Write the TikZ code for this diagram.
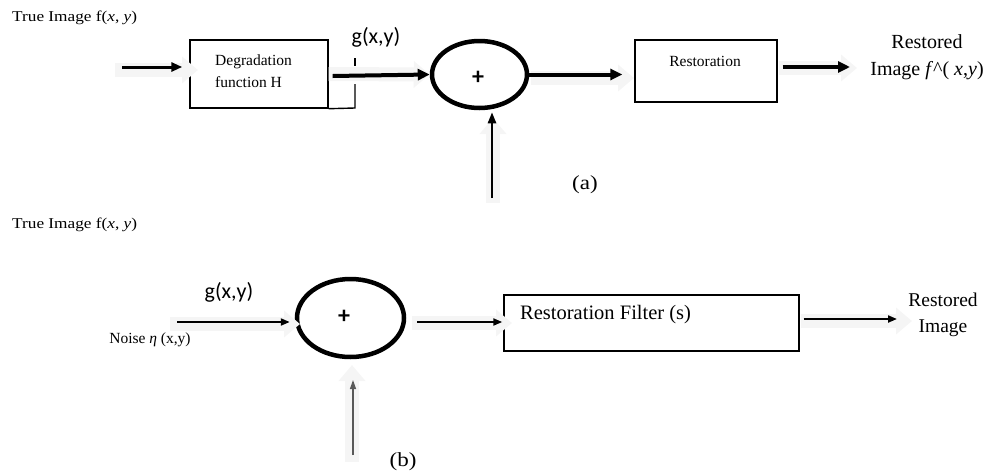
\documentclass[tikz,border=0pt]{standalone}
\usepackage{fontspec}
\setmainfont{Liberation Serif}
\newfontfamily\wideserif{Liberation Serif}[FakeStretch=1.15]
\newfontfamily\calib{Carlito}
\usetikzlibrary{arrows.meta,calc,shapes.geometric}
\tikzset{
  boxnode/.style={draw, line width=1.4pt, inner sep=0pt},
  sumnode/.style={draw, ellipse, line width=4.5pt, inner sep=0pt},
  thickarr/.style={line width=4pt, -{Triangle[length=12pt,width=11pt]}},
  medarr/.style={line width=3pt, -{Triangle[length=11pt,width=9pt]}},
  vertarr/.style={line width=2.4pt, -{Triangle[length=11pt,width=8pt]}},
  thinarr/.style={line width=2pt, -{Triangle[length=9pt,width=7pt]}},
  hairarr/.style={line width=1.3pt, draw=black!65, -{Triangle[length=9pt,width=6pt]}},
  halo/.style={draw=black!4, line width=14pt, -{Triangle[length=16pt,width=26pt]}},
  smalltxt/.style={font=\fontsize{15.5}{22}\selectfont, inner sep=0pt},
  truetxt/.style={font=\wideserif\fontsize{15}{18}\selectfont, inner sep=0pt, anchor=west},
  bigtxt/.style={font=\fontsize{20}{27}\selectfont, inner sep=0pt, align=center},
  gtxt/.style={font=\calib\fontsize{22}{26}\selectfont, inner sep=0pt},
  plustxt/.style={font=\calib\bfseries\fontsize{24}{24}\selectfont, inner sep=0pt},
  captxt/.style={font=\wideserif\fontsize{20}{20}\selectfont, inner sep=0pt}
}
\begin{document}
\begin{tikzpicture}[x=1pt,y=-1pt]
\useasboundingbox (0,0) rectangle (987,474);

% ---------- (a) ----------
\node[truetxt] (trueA) at (12,18) {True Image f(\textit{x}, \textit{y})};

\coordinate (inA) at (122,67);
\node[boxnode, minimum width=138pt, minimum height=68pt] (degr) at (259,74) {};
\node[smalltxt, anchor=west, align=left] (degrtxt) at (215,71) {Degradation\\function H};

\node[sumnode, minimum width=95pt, minimum height=67pt] (sumA) at (479.5,74.5) {};
\node[plustxt] (plusA) at (478,78) {+};

\node[boxnode, minimum width=142pt, minimum height=62pt] (restA) at (706,71) {};
\node[smalltxt] (restAtxt) at (705,61) {Restoration};

\coordinate (outA) at (850,67);
\coordinate (botA) at (492,198);
\coordinate (tickT) at (355,58);
\coordinate (tickB) at (355,66);
\coordinate (gcorner) at (355,108);
\coordinate (gtop) at (355,84);

% halos
\draw[halo] (115,70) -- (198,70);
\draw[halo] (degr.east) -- (sumA.west);
\draw[halo] (531,78) -- (634,78);
\draw[halo] (779,68) -- (857,68);
\draw[halo] (493,203) -- (493,118);

\draw[medarr, shorten >=7pt] (inA) -- (inA -| degr.west);
\draw[line width=1.4pt] (degr.south east) -- (gcorner) -- (gtop);
\draw[line width=1.2pt] (tickT) -- (tickB);
\node[gtxt] (gA) at (376,37) {g(x,y)};
\draw[thickarr] ($(degr.east)+(4,2)$) -- (sumA.west);
\draw[thickarr, shorten >=12pt] (sumA.east) -- (sumA.east -| restA.west);
\draw[thickarr] ($(restA.east |- outA)+(5,0)$) -- (outA);
\node[bigtxt] (restoredA) at (927,57) {Restored\\Image \textit{f}\textasciicircum( \textit{x},\textit{y})};
\draw[vertarr, shorten >=2pt] (botA) -- (botA |- sumA.south);
\node[captxt] (labA) at (585,185) {(a)};

% ---------- (b) ----------
\node[truetxt] (trueB) at (12,225) {True Image f(\textit{x}, \textit{y})};
\node[gtxt] (gB) at (229,292) {g(x,y)};
\node[smalltxt] (noise) at (150,340) {Noise \textit{η} (x,y)};

\coordinate (inB) at (177,322);
\node[sumnode, minimum width=107pt, minimum height=78pt] (sumB) at (350.5,318) {};
\node[plustxt] (plusB) at (344,317) {+};
\node[boxnode, minimum width=295pt, minimum height=56pt] (restB) at (651.5,323) {};
\node[font=\fontsize{20.5}{24}\selectfont, inner sep=0pt, anchor=west] (restBtxt) at (520,315) {Restoration Filter (s)};
\coordinate (midB) at (417,322);
\coordinate (outB) at (897,319);
\coordinate (botB) at (353,455);
\coordinate (tipB) at (353,380);

% halos
\draw[halo] (170,324) -- (300,324);
\draw[halo] (412,323) -- (512,323);
\draw[halo] (801,321) -- (912,321);
\draw[halo] (352,462) -- (352,365);

\draw[thinarr, shorten >=5pt] (inB) -- (inB -| sumB.west);
\draw[thinarr, shorten >=1pt] (midB) -- (midB -| restB.west);
\draw[thinarr] ($(restB.east |- outB)+(4,0)$) -- (outB);
\node[bigtxt, font=\fontsize{19.5}{26}\selectfont] (restoredB) at (943,315) {Restored\\Image};
\draw[hairarr] (botB) -- (tipB);
\node[captxt] (labB) at (403,462) {(b)};
\end{tikzpicture}
\end{document}
